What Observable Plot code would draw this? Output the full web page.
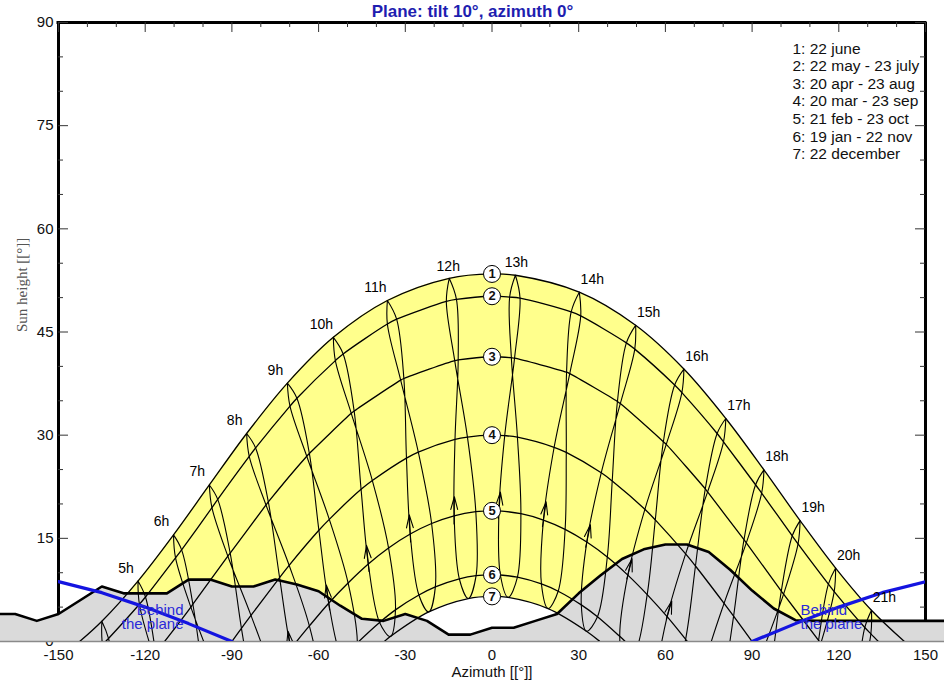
<!DOCTYPE html>
<html>
<head>
<meta charset="utf-8">
<script src="https://cdn.jsdelivr.net/npm/d3@7"></script>
<script src="https://cdn.jsdelivr.net/npm/@observablehq/plot@0.6"></script>
<style>
html,body{margin:0;padding:0;background:#fff;}
#chart svg{display:block;}
</style>
</head>
<body>
<div id="chart"></div>
<script>
// ---------- values ----------
const hours = [4,5,6,7,8,9,10,11,12,13,14,15,16,17,18,19,20,21];
// [azimuth, sun height] of each hour, for each date (null = far below)
const jun22 = [[-135.0,2.95],[-122.5,8.79],[-110.2,15.50],[-97.8,22.76],[-84.9,30.24],[-70.8,37.56],[-54.9,44.22],[-36.2,49.58],[-14.8,52.81],[8.1,53.25],[30.2,50.79],[49.7,45.97],[66.4,39.61],[80.9,32.42],[94.1,24.95],[106.6,17.58],[118.9,10.68],[131.3,4.55]];
const jul23 = [[-134.8,-0.45],[-122.0,5.42],[-109.5,12.16],[-96.9,19.45],[-84.0,26.93],[-69.9,34.22],[-54.2,40.84],[-36.2,46.16],[-15.8,49.44],[6.1,50.08],[27.4,47.92],[46.5,43.42],[63.2,37.29],[77.9,30.24],[91.2,22.79],[103.9,15.37],[116.4,8.34],[129.0,2.04]];
const may22 = [[-132.7,0.44],[-119.9,6.47],[-107.4,13.33],[-94.9,20.67],[-81.8,28.14],[-67.5,35.36],[-51.5,41.81],[-33.0,46.86],[-12.3,49.74],[9.7,49.92],[30.7,47.34],[49.4,42.51],[65.7,36.19],[80.1,29.03],[93.3,21.56],[105.9,14.19],[118.4,7.26],[131.1,1.11]];
const aug23 = [[-130.5,-8.23],[-117.2,-2.02],[-104.2,4.99],[-91.4,12.40],[-78.2,19.85],[-64.1,26.94],[-48.7,33.18],[-31.6,38.00],[-12.9,40.84],[6.7,41.25],[25.8,39.15],[43.4,34.90],[59.3,29.05],[73.8,22.18],[87.2,14.80],[100.1,7.33],[113.0,0.16],[126.2,-6.35]];
const apr20 = [[-129.7,-7.89],[-116.4,-1.61],[-103.5,5.42],[-90.6,12.85],[-77.4,20.29],[-63.2,27.34],[-47.7,33.51],[-30.5,38.24],[-11.7,40.94],[7.8,41.19],[26.9,38.95],[44.4,34.59],[60.3,28.66],[74.6,21.75],[88.0,14.35],[100.9,6.89],[113.8,-0.25],[127.0,-6.71]];
const sep23 = [null,[-109.6,-10.98],[-96.4,-3.69],[-83.4,3.79],[-70.2,11.08],[-56.3,17.76],[-41.4,23.40],[-25.5,27.54],[-8.5,29.72],[8.8,29.71],[25.7,27.49],[41.6,23.34],[56.5,17.68],[70.4,10.98],[83.6,3.69],[96.6,-3.79],[109.8,-11.08],null];
const mar20 = [null,[-113.0,-12.73],[-99.7,-5.55],[-86.7,1.92],[-73.5,9.29],[-59.9,16.18],[-45.3,22.12],[-29.6,26.67],[-12.8,29.38],[4.4,29.93],[21.5,28.24],[37.8,24.53],[52.9,19.22],[67.0,12.73],[80.3,5.55],[93.3,-1.92],[106.5,-9.29],null];
const oct23 = [null,null,[-89.1,-12.18],[-76.2,-4.76],[-63.2,2.26],[-49.8,8.51],[-35.8,13.60],[-20.9,17.16],[-5.6,18.87],[10.0,18.58],[25.3,16.31],[39.9,12.28],[53.7,6.82],[67.0,0.32],[79.9,-6.86],[92.8,-14.33],null,null];
const feb21 = [null,null,[-95.5,-15.85],[-82.5,-8.37],[-69.6,-1.10],[-56.5,5.57],[-42.8,11.27],[-28.3,15.63],[-13.1,18.28],[2.4,18.98],[17.8,17.66],[32.8,14.46],[47.0,9.65],[60.6,3.61],[73.6,-3.28],[86.4,-10.66],null,null];
const nov22 = [null,null,null,[-71.8,-13.0],[-59.3,-6.19],[-46.6,-0.21],[-33.4,4.60],[-19.6,7.94],[-5.5,9.57],[8.8,9.35],[22.9,7.31],[36.5,3.60],[49.6,-1.51],[62.3,-7.71],null,null,null,null];
const jan19 = [null,null,null,null,[-64.5,-8.92],[-51.9,-2.56],[-38.9,2.77],[-25.3,6.76],[-11.3,9.11],[2.9,9.67],[17.1,8.37],[30.9,5.32],[44.2,0.75],[57.1,-5.04],[69.6,-11.73],null,null,null];
const dec22 = [null,null,null,null,[-60.5,-10.33],[-48.0,-4.26],[-35.2,0.72],[-21.9,4.30],[-8.2,6.25],[5.6,6.41],[19.4,4.79],[32.7,1.50],[45.7,-3.23],[58.2,-9.13],null,null,null,null];

// date curves 1..7: sunrise/sunset azimuth (height 0) and noon height
const riseAz = [142.7,133.7,113.3,90.0,67.6,46.1,37.3];
const noonH = [53.44,50.2,41.4,30.0,19.0,9.7,6.56];
const curveNames = ["1","2","3","4","5","6","7"];

// far horizon profile
const horizonAz = [-172.5,-165,-157.5,-150,-142.5,-135,-127.5,-120,-112.5,-105,-97.5,-90,-82.5,-75,-67.5,-60,-52.5,-45,-37.5,-30,-22.5,-15,-7.5,0,7.5,15,22.5,30,37.5,45,52.5,60,67.5,75,82.5,90,97.5,105,112.5,120,127.5,135,142.5,150,157.5];
const horizonH  = [4,4,3,4,6,8,7,7,7,9,9,8,8,9,8.3,7.3,5.2,3.3,3,4,3,1,1,2,2,3,4,7,9.6,12,13.4,14.1,14.1,13,10.4,7.4,4.8,3.1,3,3,3,3,3,3,3];

// "behind the plane" limits
const behindLeftAz = [-150,-135,-120,-105,-90];
const behindLeftH = [8.7,7.1,5.0,2.6,0];
const behindRightAz = [90,105,120,135,150];
const behindRightH = [0,2.6,5.0,7.1,8.7];

const legendLines = ["1: 22 june","2: 22 may - 23 july","3: 20 apr - 23 aug","4: 20 mar - 23 sep","5: 21 feb - 23 oct","6: 19 jan - 22 nov","7: 22 december"];
const xTicks = [-150,-120,-90,-60,-30,0,30,60,90,120,150];
const xMinor = [-140,-130,-110,-100,-80,-70,-50,-40,-20,-10,10,20,40,50,70,80,100,110,130,140];
const yTicks = [0,15,30,45,60,75,90];
const yMinor = [5,10,20,25,35,40,50,55,65,70,80,85];
const labelHours = [5,6,7,8,9,10,11,12,13,14,15,16,17,18,19,20,21];

// ---------- build tables ----------
const cycle = [jun22, jul23, aug23, sep23, oct23, nov22, dec22, jan19, feb21, mar20, apr20, may22, jun22];
const hourLines = [];
hours.forEach((hr, i) => {
  cycle.forEach((arr, k) => {
    const p = arr[i];
    hourLines.push({hour: hr, k, az: p ? p[0] : NaN, h: p ? p[1] : NaN});
  });
});

const curveSets = [[jun22],[jul23,may22],[aug23,apr20],[sep23,mar20],[oct23,feb21],[nov22,jan19],[dec22]];
const curves = curveSets.flatMap((arrs, c) => {
  const pts = arrs.flatMap(a => a.filter(p => p)).map(([az, h]) => ({c, az, h}));
  pts.push({c, az: -riseAz[c], h: 0}, {c, az: riseAz[c], h: 0}, {c, az: 0, h: noonH[c]});
  return pts.sort((a, b) => a.az - b.az);
});
const outer = curves.filter(d => d.c === 0 && d.h >= 0);
const inner = curves.filter(d => d.c === 6 && d.h >= 0);

const horizon = horizonAz.map((az, i) => ({az, h: horizonH[i]}));
const behindL = behindLeftAz.map((az, i) => ({az, h: behindLeftH[i]}));
const behindR = behindRightAz.map((az, i) => ({az, h: behindRightH[i]}));

// direction arrows on the Feb -> Mar stretch of each hour line
const arrows = hours.map((hr, i) => ({a: feb21[i], b: mar20[i]}))
  .filter(d => d.a && d.b)
  .map(({a, b}) => ({
    x1: a[0] - 0.5 * (b[0] - a[0]), y1: a[1] - 0.5 * (b[1] - a[1]),
    x2: a[0] + 0.25 * (b[0] - a[0]), y2: a[1] + 0.25 * (b[1] - a[1])
  }));

const hourLab = labelHours.map(hr => {
  const p = jun22[hours.indexOf(hr)];
  return {label: hr + "h", az: p[0], h: p[1]};
});

const circles = noonH.map((h, i) => ({h, label: curveNames[i]}));

const sans = "'Liberation Sans', Arial, sans-serif";
const yellow = "#ffff8c";
const grayFill = "#dadada";
const blue = "#1414e0";

const chart = Plot.plot({
  width: 944,
  height: 694,
  marginLeft: 58,
  marginRight: 19,
  marginTop: 22,
  marginBottom: 53,
  x: {domain: [-150, 150], axis: null},
  y: {domain: [0, 90], axis: null},
  style: {fontFamily: sans, fontSize: "15px", background: "#fff", color: "#000", overflow: "visible"},
  marks: [
    // sunny area between curve 1 and curve 7
    Plot.areaY(outer, {x: "az", y: "h", fill: yellow, curve: "catmull-rom", clip: true}),
    Plot.areaY(inner, {x: "az", y: "h", fill: "#fff", curve: "catmull-rom", clip: true}),
    // frame (left, right, top)
    Plot.ruleX([-150, 150], {stroke: "#000", strokeWidth: 3}),
    Plot.ruleY([90], {stroke: "#000", strokeWidth: 3, strokeLinecap: "square"}),
    // inward ticks
    Plot.tickX(xTicks, {x: d => d, insetBottom: 609, stroke: "#333"}),
    Plot.tickX(xMinor, {x: d => d, insetBottom: 614, stroke: "#333"}),
    Plot.tickY(yTicks, {y: d => d, insetRight: 857, stroke: "#333"}),
    Plot.tickY(yMinor, {y: d => d, insetRight: 862, stroke: "#333"}),
    Plot.tickY(yTicks, {y: d => d, insetLeft: 857, stroke: "#333"}),
    Plot.tickY(yMinor, {y: d => d, insetLeft: 862, stroke: "#333"}),
    // tick labels
    Plot.text(yTicks, {y: d => d, text: d => String(d), frameAnchor: "left", dx: -5, textAnchor: "end", lineAnchor: "middle", fontSize: 15, fill: "#111"}),
    Plot.text(xTicks, {x: d => d, text: d => String(d), frameAnchor: "bottom", dy: 14, lineAnchor: "middle", fontSize: 15, fill: "#111"}),
    // far horizon
    Plot.areaY(horizon, {x: "az", y: "h", fill: grayFill, clip: false}),
    Plot.ruleY([0], {stroke: "#8a8a8a", strokeWidth: 1.5, insetLeft: -58, insetRight: -19}),
    // date curves
    Plot.line(curves, {x: "az", y: "h", z: "c", stroke: "#000", strokeWidth: 1.3, curve: "catmull-rom", clip: true}),
    // hour lines
    Plot.line(hourLines, {x: "az", y: "h", z: "hour", stroke: "#000", strokeWidth: 1.1, curve: "catmull-rom", clip: true}),
    Plot.arrow(arrows, {x1: "x1", y1: "y1", x2: "x2", y2: "y2", insetStart: 30, stroke: "#000", strokeWidth: 1.1, headAngle: 30, headLength: 18, clip: true}),
    // horizon line
    Plot.line(horizon, {x: "az", y: "h", stroke: "#000", strokeWidth: 2.6, clip: false}),
    // behind the plane
    Plot.line(behindL, {x: "az", y: "h", stroke: blue, strokeWidth: 3.2, clip: true}),
    Plot.line(behindR, {x: "az", y: "h", stroke: blue, strokeWidth: 3.2, clip: true}),
    Plot.text(["Behind\nthe plane"], {frameAnchor: "bottom-left", dx: 125, dy: -13, textAnchor: "end", lineAnchor: "bottom", lineHeight: 0.9, fontSize: 15, fill: "#2a2ad8"}),
    Plot.text(["Behind\nthe plane"], {frameAnchor: "bottom-right", dx: -125, dy: -13, textAnchor: "start", lineAnchor: "bottom", lineHeight: 0.9, fontSize: 15, fill: "#2a2ad8"}),
    // numbered circles
    Plot.dot(circles, {x: 0, y: "h", r: 8.5, fill: "#fff", stroke: "#000", strokeWidth: 1}),
    Plot.text(circles, {x: 0, y: "h", text: "label", fontSize: 13, fontWeight: "bold", fill: "#111"}),
    // hour labels
    Plot.text(hourLab.filter(d => d.az < -20), {x: "az", y: "h", text: "label", dx: -12, dy: -13, fontSize: 14}),
    Plot.text(hourLab.filter(d => d.az >= -20 && d.az < 0), {x: "az", y: "h", text: "label", dx: -1, dy: -12, fontSize: 14}),
    Plot.text(hourLab.filter(d => d.az >= 0 && d.az <= 20), {x: "az", y: "h", text: "label", dx: 1, dy: -13, fontSize: 14}),
    Plot.text(hourLab.filter(d => d.az > 20), {x: "az", y: "h", text: "label", dx: 13, dy: -13, fontSize: 14}),
    // legend
    Plot.text([legendLines.join("\n")], {frameAnchor: "top-right", dx: -133, dy: 19, textAnchor: "start", lineAnchor: "top", lineHeight: 1.13, fontSize: 15.5, fill: "#111"}),
    // title and axis titles
    Plot.text(["Plane: tilt 10°, azimuth 0°"], {frameAnchor: "top", dx: -19.5, dy: -11, lineAnchor: "middle", fontSize: 17, fontWeight: "bold", fill: "#1e1eb0"}),
    Plot.text(["Azimuth [[°]]"], {frameAnchor: "bottom", dy: 31, lineAnchor: "middle", fontSize: 15, fill: "#111"}),
    Plot.text(["Sun height [[°]]"], {frameAnchor: "left", dx: -36, rotate: -90, lineAnchor: "middle", fontSize: 15, fontFamily: "'Liberation Serif', 'Times New Roman', serif", fill: "#555"})
  ]
});
document.getElementById("chart").appendChild(chart);
</script>
</body>
</html>
